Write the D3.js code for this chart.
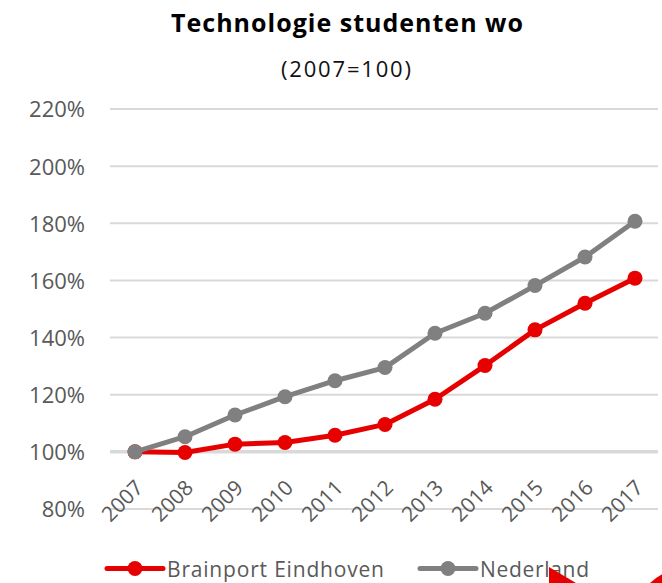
<!DOCTYPE html>
<html><head><meta charset="utf-8">
<script src="https://cdn.jsdelivr.net/npm/d3@7"></script>
<style>body{margin:0;background:#fff}svg{display:block}</style>
</head><body>
<script>
const years = ["2007","2008","2009","2010","2011","2012","2013","2014","2015","2016","2017"];
const brainport = [100, 99.8, 102.7, 103.3, 105.8, 109.6, 118.4, 130.2, 142.7, 152.0, 160.8];
const nederland = [100, 105.3, 112.9, 119.3, 124.9, 129.5, 141.5, 148.5, 158.2, 168.2, 180.7];
const yTicks = [80, 100, 120, 140, 160, 180, 200, 220];
const seriesNames = ["Brainport Eindhoven", "Nederland"];
const colors = ["#e60000", "#808080"];

const W = 662, H = 583;
const font = "'Open Sans', 'Noto Sans', sans-serif";
const svg = d3.select("body").append("svg").attr("width", W).attr("height", H);

const x = d3.scalePoint().domain(years).range([135, 635]);
const y = d3.scaleLinear().domain([80, 220]).range([509, 109]);

// title
svg.append("text").attr("x", 171).attr("y", 32)
  .attr("font-family", font).attr("font-weight", "bold").attr("font-size", 25)
  .attr("textLength", 352).attr("lengthAdjust", "spacing")
  .attr("fill", "#000").text("Technologie studenten wo");
svg.append("text").attr("x", 281).attr("y", 77)
  .attr("font-family", font).attr("font-size", 22)
  .attr("textLength", 130).attr("lengthAdjust", "spacing")
  .attr("fill", "#111").text("(2007=100)");

// grid + y axis
const yAxis = d3.axisLeft(y).tickValues(yTicks).tickSize(0).tickPadding(0)
  .tickFormat(d => d + "%");
const gy = svg.append("g").attr("transform", "translate(85,0)").call(yAxis);
gy.select(".domain").remove();
gy.selectAll("text").attr("font-family", font).attr("font-size", 22).attr("fill", "#595959").attr("dy", "0.36em");

svg.append("g").selectAll("line").data(yTicks).join("line")
  .attr("x1", 110).attr("x2", 658)
  .attr("y1", d => y(d)).attr("y2", d => y(d))
  .attr("stroke", "#d9d9d9").attr("stroke-width", d => d === 100 ? 3.5 : 2);

// x axis labels
const xAxis = d3.axisBottom(x).tickSize(0).tickPadding(0);
const gx = svg.append("g").attr("transform", "translate(0,470)").call(xAxis);
gx.select(".domain").remove();
gx.selectAll("text").attr("font-family", font).attr("font-size", 21).attr("fill", "#595959")
  .attr("text-anchor", "end").attr("dy", 0)
  .attr("transform", "translate(9,19) rotate(-45)");

// lines
const data = [brainport, nederland];
const line = d3.line().x((d, i) => x(years[i])).y(d => y(d));
[0, 1].forEach(k => {
  const g = svg.append("g");
  g.append("path").datum(data[k]).attr("d", line).attr("fill", "none")
    .attr("stroke", colors[k]).attr("stroke-width", 5).attr("stroke-linejoin", "round");
  g.selectAll("circle").data(data[k]).join("circle")
    .attr("cx", (d, i) => x(years[i])).attr("cy", d => y(d)).attr("r", 7.5)
    .attr("fill", colors[k]);
});

// legend
const leg = [{x0: 107, name: seriesNames[0], c: colors[0], w: 217}, {x0: 420, name: seriesNames[1], c: colors[1], w: 109}];
leg.forEach(l => {
  const g = svg.append("g");
  g.append("line").attr("x1", l.x0).attr("x2", l.x0 + 56).attr("y1", 568.5).attr("y2", 568.5)
    .attr("stroke", l.c).attr("stroke-width", 5).attr("stroke-linecap", "round");
  g.append("circle").attr("cx", l.x0 + 28).attr("cy", 568.5).attr("r", 7.5).attr("fill", l.c);
  g.append("text").attr("x", l.x0 + 60).attr("y", 577).attr("font-family", font)
    .attr("font-size", 21).attr("textLength", l.w).attr("lengthAdjust", "spacing")
    .attr("fill", "#595959").text(l.name);
});

// decorative red shapes bottom right
svg.append("path").attr("d", "M549,567 L576,583 L549,583 Z").attr("fill", "#e60000");
svg.append("circle").attr("cx", 690).attr("cy", 625).attr("r", 58).attr("fill", "#e60000");
</script>
</body></html>
